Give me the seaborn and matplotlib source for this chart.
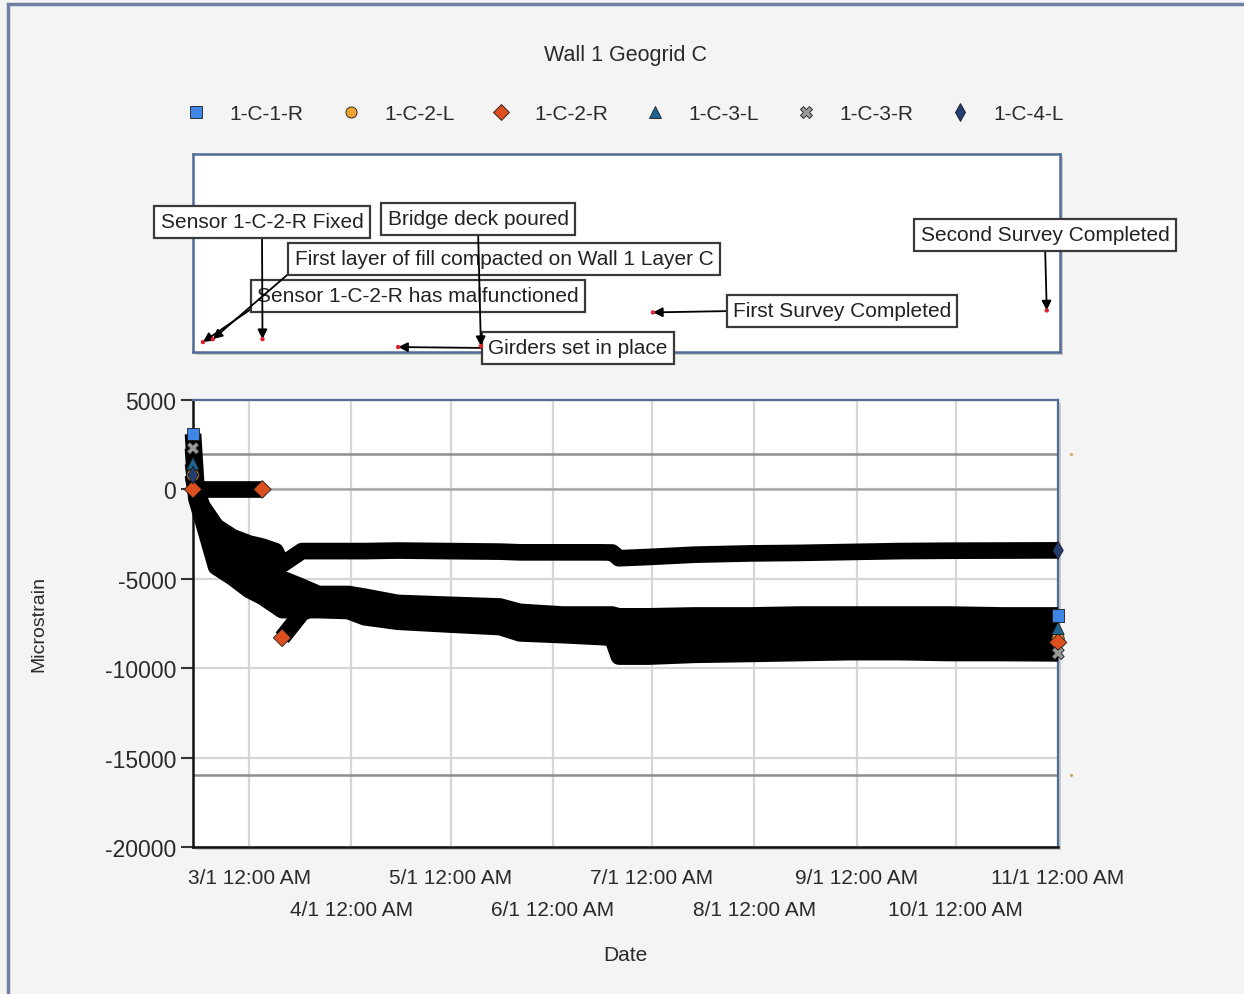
import pandas as pd
import numpy as np
import seaborn as sns
import matplotlib
matplotlib.use("Agg")
import matplotlib.pyplot as plt
import matplotlib.dates as mdates
from matplotlib.lines import Line2D
from matplotlib.patches import Rectangle
from matplotlib.ticker import FuncFormatter

# readings
dates = ["2013-02-12", "2013-02-13", "2013-02-15", "2013-02-19", "2013-02-24",
         "2013-03-01", "2013-03-05", "2013-03-09", "2013-03-11", "2013-03-17",
         "2013-03-22", "2013-03-31", "2013-04-05", "2013-04-15", "2013-04-30",
         "2013-05-16", "2013-05-22", "2013-06-04", "2013-06-15", "2013-06-19",
         "2013-06-21", "2013-06-30", "2013-07-14", "2013-07-31", "2013-08-15",
         "2013-08-30", "2013-09-14", "2013-09-29", "2013-10-15", "2013-11-01"]

s_1c1r = [3100, 200, -1200, -2640, -3240, -3675, -3900, -4900, -5000, -5450,
          -5850, -5850, -6000, -6350, -6450, -6550, -6850, -7000, -7000, -7000,
          -7100, -7100, -7050, -7050, -7000, -7000, -7000, -7000, -7050, -7050]
s_1c2l = [800, -200, -1600, -3760, -4360, -4975, -5300, -5700, -5900, -6000,
          -6300, -6350, -6600, -6950, -7050, -7200, -7500, -7650, -7700, -7700,
          -8300, -8350, -8300, -8300, -8300, -8300, -8330, -8330, -8350, -8350]
s_1c2r = [0, 0, 0, 0, 0, 0, 0, None, -8300, -6900,
          -6500, -6550, -6850, -7150, -7300, -7450, -7800, -7900, -7950, -7950,
          -8600, -8600, -8550, -8550, -8500, -8500, -8550, -8550, -8560, -8560]
s_1c3l = [1450, 0, -1400, -3200, -3800, -4325, -4600, -5200, -5150, -5700,
          -6100, -6100, -6250, -6700, -6800, -6900, -7200, -7350, -7400, -7400,
          -7800, -7800, -7750, -7750, -7700, -7700, -7750, -7750, -7770, -7770]
s_1c3r = [2300, -500, -1750, -4325, -4925, -5625, -6000, -6500, -6750, -6750,
          -6750, -6800, -7150, -7400, -7550, -7700, -8050, -8150, -8250, -8300,
          -9350, -9350, -9250, -9200, -9150, -9100, -9100, -9150, -9150, -9170]
s_1c4l = [800, -300, -1000, -2075, -2675, -3025, -3200, -3450, -4200, -3450,
          -3450, -3450, -3450, -3420, -3450, -3480, -3520, -3520, -3520, -3530,
          -3850, -3780, -3650, -3580, -3550, -3500, -3450, -3430, -3420, -3410]

sensors = ["1-C-1-R", "1-C-2-L", "1-C-2-R", "1-C-3-L", "1-C-3-R", "1-C-4-L"]
series = [s_1c1r, s_1c2l, s_1c2r, s_1c3l, s_1c3r, s_1c4l]

limit_lines = [2000, -16000]

event_labels = ["Sensor 1-C-2-R has malfunctioned",
                "First layer of fill compacted on Wall 1 Layer C",
                "Sensor 1-C-2-R Fixed",
                "Girders set in place",
                "Bridge deck poured",
                "First Survey Completed",
                "Second Survey Completed"]
event_dates = ["2013-02-15", "2013-02-18", "2013-03-05", "2013-04-15",
               "2013-05-10", "2013-07-01", "2013-10-28"]
event_levels = [0.05, 0.065, 0.065, 0.025, 0.03, 0.2, 0.21]

# styling
colors = {"1-C-1-R": "#3f87e6", "1-C-2-L": "#f0a232", "1-C-2-R": "#dc5020",
          "1-C-3-L": "#1d6590", "1-C-3-R": "#9a9a9a", "1-C-4-L": "#243e70"}
marks = {"1-C-1-R": "s", "1-C-2-L": "o", "1-C-2-R": "D",
         "1-C-3-L": "^", "1-C-3-R": "X", "1-C-4-L": "d"}
# text box centres in picture pixels and arrow start points on the boxes
box_xy = [(418, 297), (504, 260), (262, 223), (578, 349), (478, 220), (842, 312), (1045, 236)]
box_rel = [(0.01, 0.15), (0.0, 0.0), (0.5, 0.0), (0.0, 0.5), (0.5, 0.0), (0.0, 0.5), (0.5, 0.0)]

W, H = 1244, 995

sns.set_style("white")
plt.rcParams["font.family"] = ["Liberation Sans", "DejaVu Sans"]
plt.rcParams["axes.unicode_minus"] = False

frames = []
for name, vals in zip(sensors, series):
    d = pd.DataFrame({"date": pd.to_datetime(dates),
                      "strain": pd.Series(vals, dtype="float")})
    d["sensor"] = name
    d["seg"] = d["strain"].isna().cumsum()
    frames.append(d.dropna())
df = pd.concat(frames, ignore_index=True)

fig = plt.figure(figsize=(W / 100, H / 100), dpi=100)
fig.patch.set_facecolor("#f4f4f4")
fig.patches.append(Rectangle((8 / W, -0.05), 1.2, 1.05 - 5 / H, transform=fig.transFigure,
                             fill=False, ec="#6d80a4", lw=2.5, zorder=-2))

# shadows behind the two panels
for l, b, w, h in [(193, 353, 867, 198), (193, 848, 865, 447)]:
    fig.patches.append(Rectangle(((l + 3) / W, (H - b - 3) / H), w / W, h / H,
                                 transform=fig.transFigure, fc="#c9c9c9", ec="none", zorder=-1))

ax = fig.add_axes([193 / W, (H - 848) / H, 865 / W, 447 / H])
ax_ann = fig.add_axes([193 / W, (H - 353) / H, 867 / W, 198 / H])

xmin, xmax = pd.Timestamp("2013-02-12"), pd.Timestamp("2013-11-01")

# main chart: dense readings draw as thick black bands
for name in sensors:
    sub = df[df["sensor"] == name]
    sns.lineplot(data=sub, x="date", y="strain", units="seg", estimator=None,
                 color="black", linewidth=12, solid_capstyle="butt",
                 solid_joinstyle="round", ax=ax, legend=False, zorder=3, clip_on=False)

ends = df.groupby(["sensor", "seg"]).nth([0, -1])
sns.scatterplot(data=ends, x="date", y="strain", hue="sensor", style="sensor",
                palette=colors, markers=marks, s=80, edgecolor="#1a1a1a",
                linewidth=0.6, ax=ax, legend=False, zorder=4, clip_on=False)

for v in limit_lines:
    ax.axhline(v, color="#8e8e8e", lw=1.8, zorder=1)
ax.axhline(0, color="#a8a8a8", lw=1.8, zorder=1)
sns.scatterplot(x=[pd.Timestamp("2013-11-05")] * len(limit_lines), y=limit_lines,
                color="#c9a46a", s=6, ax=ax, legend=False, clip_on=False, zorder=2)

ax.set_xlim(xmin, xmax)
ax.set_ylim(-20000, 5000)
ax.set_yticks(np.arange(-20000, 5001, 5000))
ax.xaxis.set_major_locator(mdates.MonthLocator(bymonth=[3, 5, 7, 9, 11]))
ax.xaxis.set_minor_locator(mdates.MonthLocator(bymonth=[4, 6, 8, 10]))
fmt = FuncFormatter(lambda v, p: "%d/%d 12:00 AM" % (mdates.num2date(v).month, mdates.num2date(v).day))
ax.xaxis.set_major_formatter(fmt)
ax.xaxis.set_minor_formatter(fmt)
ax.grid(True, which="both", axis="x", color="#d6d6d6", lw=1.6, zorder=0)
ax.grid(True, which="major", axis="y", color="#d6d6d6", lw=1.6, zorder=0)
ax.tick_params(axis="x", which="major", length=9, width=1.5, pad=6, labelsize=15,
               labelcolor="#2a2a2a", color="#333")
ax.tick_params(axis="x", which="minor", length=9, width=1.5, pad=29, labelsize=15,
               labelcolor="#2a2a2a", color="#333")
ax.tick_params(axis="y", length=9, width=1.5, pad=3, labelsize=16.5,
               labelcolor="#2a2a2a", color="#333", left=True)
ax.set_xlabel("Date", fontsize=15, color="#2a2a2a")
ax.set_ylabel("Microstrain", fontsize=14, color="#2a2a2a")
ax.xaxis.set_label_coords(0.5, (848 - 946) / 447)
ax.yaxis.set_label_coords(-0.168, 0.5)
for side in ["left", "bottom"]:
    ax.spines[side].set_color("#111")
    ax.spines[side].set_linewidth(1.8)
for side in ["top", "right"]:
    ax.spines[side].set_color("#4f6b96")
    ax.spines[side].set_linewidth(1.6)
ax.set_facecolor("white")

# event annotation panel
ev = pd.DataFrame({"date": pd.to_datetime(event_dates), "level": event_levels})
sns.scatterplot(data=ev, x="date", y="level", color="#e0202a", s=10, edgecolor="none",
                ax=ax_ann, legend=False, zorder=6, clip_on=False)
ax_ann.set_xlim(xmin, xmax)
ax_ann.set_ylim(0, 1)
ax_ann.set_xticks([])
ax_ann.set_yticks([])
ax_ann.set_xlabel("")
ax_ann.set_ylabel("")
for s in ax_ann.spines.values():
    s.set_color("#4f6b96")
    s.set_linewidth(1.8)
ax_ann.set_facecolor("white")

for label, d, lvl, (tx, ty), rel in zip(event_labels, event_dates, event_levels, box_xy, box_rel):
    ax_ann.annotate(label, xy=(mdates.date2num(pd.Timestamp(d)), lvl), xycoords="data",
                    xytext=(tx, H - ty), textcoords="figure pixels",
                    ha="center", va="center", fontsize=15, color="#222",
                    bbox=dict(boxstyle="square,pad=0.3", fc="white", ec="#3a3a3a", lw=1.6),
                    arrowprops=dict(arrowstyle="-|>", color="black", lw=1.3,
                                    mutation_scale=14, shrinkA=0, shrinkB=0, relpos=rel),
                    annotation_clip=False, zorder=5)

# title and legend
fig.text(625 / W, 1 - 55 / H, "Wall 1 Geogrid C", ha="center", va="center",
         fontsize=15.5, color="#2a2a2a")
handles = [Line2D([], [], ls="none", marker=marks[n], color=colors[n],
                  markeredgecolor="#1a1a1a", markeredgewidth=0.6,
                  markersize=8 if marks[n] != "d" else 9) for n in sensors]
fig.legend(handles, sensors, loc="center", bbox_to_anchor=(625 / W, 1 - 115 / H),
           ncol=6, frameon=False, fontsize=15, handlelength=1.0, handletextpad=1.1,
           columnspacing=1.75, labelcolor="#2a2a2a")

fig.savefig("out.png", dpi=100, facecolor=fig.get_facecolor())
